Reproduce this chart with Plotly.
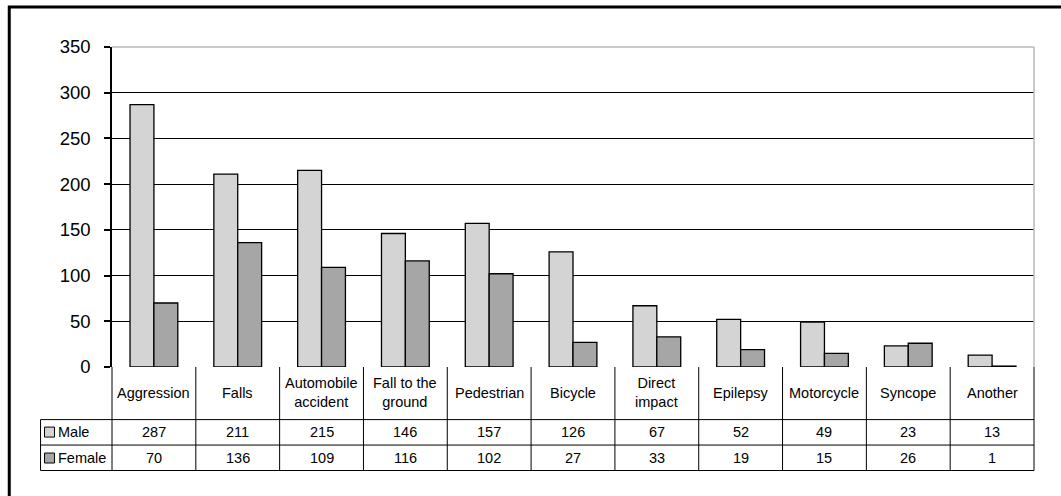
import plotly.graph_objects as go

categories = ["Aggression", "Falls", "Automobile<br>accident", "Fall to the<br>ground", "Pedestrian",
              "Bicycle", "Direct<br>impact", "Epilepsy", "Motorcycle", "Syncope", "Another"]
series_names = ["Male", "Female"]
male = [287, 211, 215, 146, 157, 126, 67, 52, 49, 23, 13]
female = [70, 136, 109, 116, 102, 27, 33, 19, 15, 26, 1]
y_ticks = [0, 50, 100, 150, 200, 250, 300, 350]

colors = ["#D4D4D4", "#A6A6A6"]
FONT = "Liberation Sans, Arial, sans-serif"

W, H = 1061, 496
REF_L, REF_R, REF_T, REF_B = 111.5, 1034, 46.7, 367.3
L, T = REF_L, REF_T
R = W - REF_R
B = H - REF_B
plot_h = REF_B - REF_T
plot_w = REF_R - REF_L


def py(px):
    """pixel y (from top) -> paper y"""
    return (REF_B - px) / plot_h


def pxx(px):
    return (px - REF_L) / plot_w


fig = go.Figure()
for name, vals, c in zip(series_names, [male, female], colors):
    fig.add_trace(go.Bar(x=list(range(len(categories))), y=vals, name=name,
                         marker=dict(color=c, line=dict(color="black", width=1.3)),
                         showlegend=False))

shapes = []
annotations = []
n = len(categories)
line = dict(color="black", width=1)

# outer chart border (left/top visible)
shapes.append(dict(type="rect", xref="paper", yref="paper", x0=pxx(8.7), x1=pxx(1090),
                   y0=py(530), y1=py(6.7), line=dict(color="black", width=3), layer="below"))

# plot-area border (grey) top/right
shapes.append(dict(type="line", xref="paper", yref="paper", x0=0, x1=1, y0=1, y1=1,
                   line=dict(color="#B8B8B8", width=1.5)))
shapes.append(dict(type="line", xref="paper", yref="paper", x0=1, x1=1, y0=0, y1=1,
                   line=dict(color="#B8B8B8", width=1.5)))

# data table
y_cat_mid = py(393)
y_r1 = py(420)
y_r2 = py(445.5)
y_bot = py(471)
x_leg = pxx(40)
TF = 14.5

for i in range(n + 1):
    shapes.append(dict(type="line", xref="paper", yref="paper", x0=i / n, x1=i / n,
                       y0=0, y1=y_bot, line=line))
for yy in [y_r1, y_r2, y_bot]:
    shapes.append(dict(type="line", xref="paper", yref="paper", x0=x_leg, x1=1,
                       y0=yy, y1=yy, line=line))
shapes.append(dict(type="line", xref="paper", yref="paper", x0=x_leg, x1=x_leg,
                   y0=y_r1, y1=y_bot, line=line))

row_centers = [432.5, 458.5]
for i, cat in enumerate(categories):
    xc = (i + 0.5) / n
    annotations.append(dict(x=xc, y=y_cat_mid, xref="paper", yref="paper", text=cat,
                            showarrow=False, xanchor="center", yanchor="middle",
                            font=dict(size=TF, color="black", family=FONT)))
    for vals, cy in zip([male, female], row_centers):
        annotations.append(dict(x=xc, y=py(cy), xref="paper", yref="paper", text=str(vals[i]),
                                showarrow=False, xanchor="center", yanchor="middle",
                                font=dict(size=TF, color="black", family=FONT)))

# legend keys in table
for name, c, cy in zip(series_names, colors, row_centers):
    shapes.append(dict(type="rect", xref="paper", yref="paper", x0=pxx(44), x1=pxx(54),
                       y0=py(cy + 5), y1=py(cy - 5), fillcolor=c,
                       line=dict(color="black", width=1)))
    annotations.append(dict(x=pxx(55), y=py(cy), xref="paper", yref="paper", text=name,
                            showarrow=False, xanchor="left", yanchor="middle",
                            font=dict(size=TF, color="black", family=FONT)))

fig.update_layout(
    width=W, height=H,
    margin=dict(l=L, r=R, t=T, b=B, pad=0),
    paper_bgcolor="white", plot_bgcolor="white",
    barmode="group", bargap=0.43, bargroupgap=0,
    font=dict(family=FONT, color="black"),
    shapes=shapes, annotations=annotations,
    xaxis=dict(range=[-0.5, n - 0.5], showticklabels=False, showgrid=False,
               zeroline=False, showline=False, ticks=""),
    yaxis=dict(range=[0, 350], tickvals=y_ticks, showgrid=True, gridcolor="black",
               gridwidth=1, zeroline=False, showline=True, linecolor="black", linewidth=1.5,
               ticks="outside", ticklen=6, tickcolor="black", tickwidth=1.5,
               ticklabelstandoff=10, tickfont=dict(size=18.5, color="black", family=FONT)),
)

fig.write_html("out.html", config={"displayModeBar": False},
               post_script="document.body.style.margin='0';document.body.style.overflow='hidden';")
